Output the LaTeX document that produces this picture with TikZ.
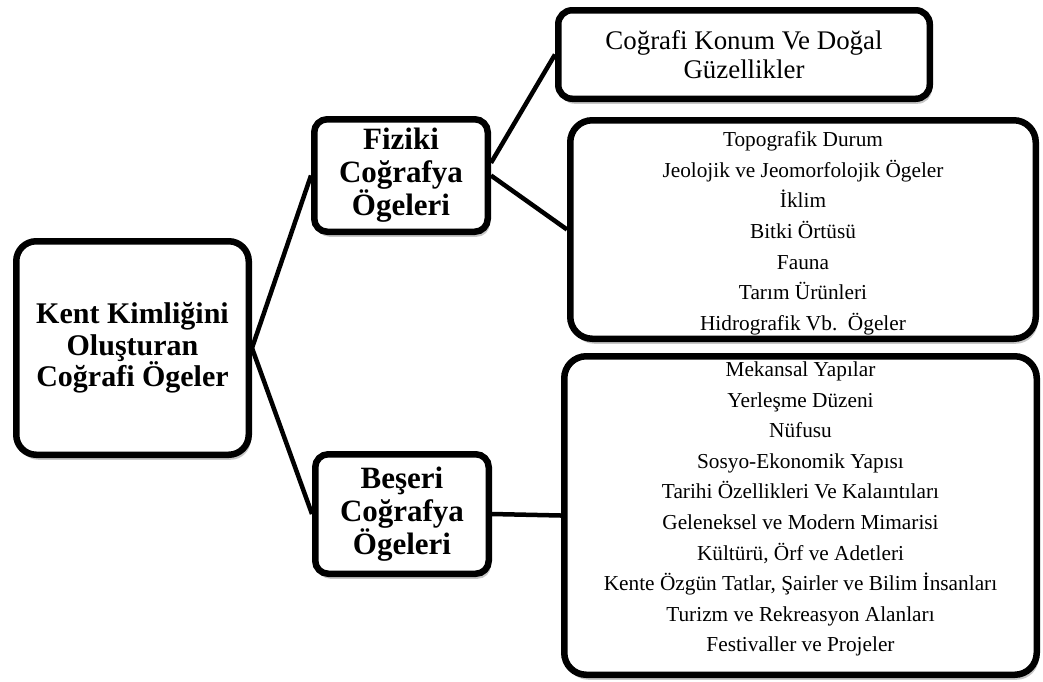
\documentclass[tikz,border=0pt]{standalone}
\usepackage{fontspec}
\setmainfont{Liberation Serif}
\usetikzlibrary{shadows}

\begin{document}
\begin{tikzpicture}[x=1pt,y=-1pt,
  kutu/.style={draw=black, line width=6.5pt, fill=white, align=center, inner sep=0pt,
    drop shadow={shadow xshift=2pt, shadow yshift=-5pt, opacity=0.22, fill=black}},
  baslik/.style={kutu, rounded corners=13pt, font=\bfseries\fontsize{31}{33}\selectfont},
  liste/.style={kutu, rounded corners=22pt},
  madde/.style={align=center, inner sep=0pt, font=\fontsize{21.3}{30.6}\selectfont},
  baglanti/.style={line width=4.5pt}]
\useasboundingbox (0,0) rectangle (1043,681);

% sol kutular
\node (kok) at (132.5,348) [baslik, rounded corners=20pt, minimum width=232.5pt, minimum height=213.5pt,
  font=\bfseries\fontsize{30}{31.5}\selectfont]{Kent Kimliğini\\Oluşturan\\Coğrafi Ögeler};
\node (fiziki) at (401,175.5) [baslik, minimum width=173.5pt, minimum height=112.5pt]{Fiziki\\Coğrafya\\Ögeleri};
\node (beseri) at (402,514) [baslik, minimum width=173.5pt, minimum height=119.5pt]{Beşeri\\Coğrafya\\Ögeleri};

% sag kutular
\node (konum) at (744,54.5) [kutu, rounded corners=14pt, minimum width=371.5pt, minimum height=88.5pt,
  font=\fontsize{26.9}{28.5}\selectfont]{Coğrafi Konum Ve Doğal\\Güzellikler};
\node (fizikiListe) at (803,229.5) [liste, minimum width=465.5pt, minimum height=218.5pt]{};
\node (beseriListe) at (800.5,515.5) [liste, minimum width=472.5pt, minimum height=318.5pt]{};

\node (fizikiMadde) at (803,233.3) [madde]{Topografik Durum\\Jeolojik ve Jeomorfolojik Ögeler\\İklim\\Bitki Örtüsü\\Fauna\\Tarım Ürünleri\\Hidrografik Vb.~~Ögeler};
\node (beseriMadde) at (800.5,509) [madde]{Mekansal Yapılar\\Yerleşme Düzeni\\Nüfusu\\Sosyo-Ekonomik Yapısı\\Tarihi Özellikleri Ve Kalaıntıları\\Geleneksel ve Modern Mimarisi\\Kültürü, Örf ve Adetleri\\Kente Özgün Tatlar, Şairler ve Bilim İnsanları\\Turizm ve Rekreasyon Alanları\\Festivaller ve Projeler};

\draw[baglanti] (kok.east)--(fiziki.west);
\draw[baglanti] (kok.east)--(beseri.west);
\draw[baglanti] (fiziki.8)--(konum.west);
\draw[baglanti] (fiziki.east)--(fizikiListe.west);
\draw[baglanti] (beseri.east)--(beseriListe.west);

\end{tikzpicture}
\end{document}
